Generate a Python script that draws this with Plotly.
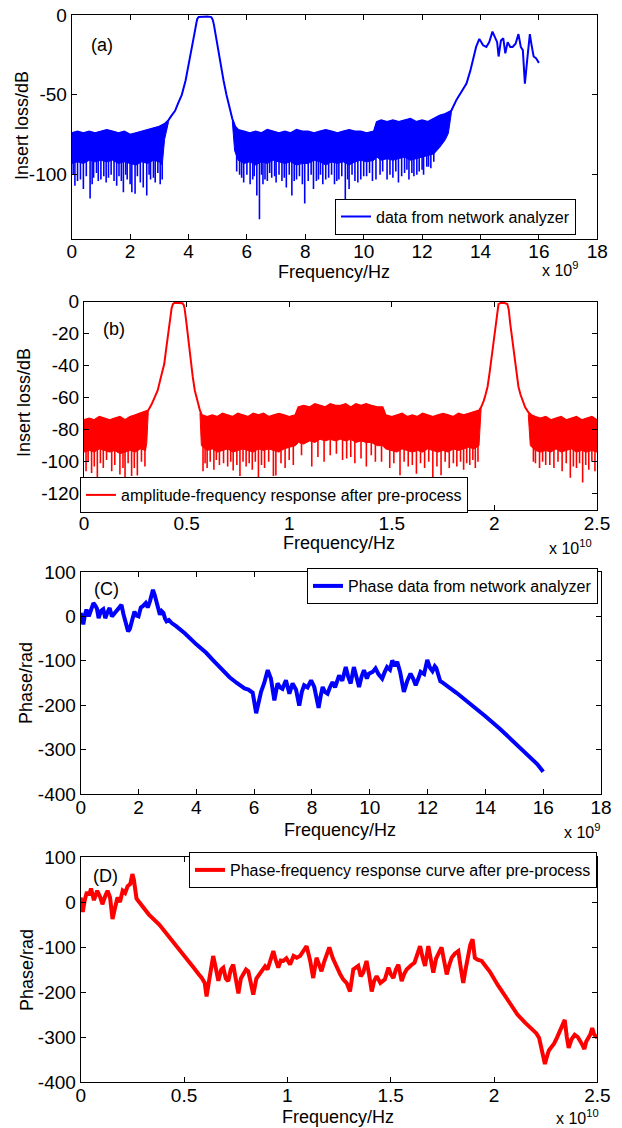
import numpy as np
import plotly.graph_objects as go

W, H = 622, 1128
FONT = "Liberation Sans, Arial, Helvetica, sans-serif"
BLUE = "#0000FF"
RED = "#FF0000"

# ---------------- Panel (a): insertion loss from network analyzer (x in 1e9 Hz) ----------------
A_FREQ = [0.0, 0.2, 0.4, 0.6, 0.8, 1.0, 1.2, 1.4, 1.6, 1.8,
          2.0, 2.2, 2.4, 2.6, 2.8, 3.0, 3.2, 3.31, 3.4, 3.54,
          3.65, 3.77, 3.9, 4.0, 4.11, 4.2, 4.27, 4.3, 4.35, 4.5,
          4.65, 4.78, 4.83, 4.87, 4.95, 5.03, 5.12, 5.2, 5.3, 5.4,
          5.5, 5.6, 5.7, 5.9, 6.1, 6.3, 6.5, 6.7, 6.9, 7.1,
          7.3, 7.5, 7.7, 7.9, 8.1, 8.3, 8.5, 8.7, 8.9, 9.1,
          9.3, 9.5, 9.7, 9.9, 10.1, 10.35, 10.45, 10.6, 10.8, 11.0,
          11.2, 11.4, 11.6, 11.8, 12.0, 12.2, 12.4, 12.6, 12.8, 13.0,
          13.18, 13.35, 13.52, 13.65, 13.75, 13.85, 13.96, 14.09, 14.2, 14.3,
          14.41, 14.5, 14.57, 14.62, 14.7, 14.78, 14.85, 14.93, 15.02, 15.1,
          15.2, 15.3, 15.38, 15.45, 15.52, 15.6, 15.69, 15.75, 15.82, 15.9,
          16.0]
A_UPPER = [-74, -73, -74, -73, -74, -73, -72, -73, -74, -73,
           -75, -74, -73, -72, -71, -70, -68, -66, -63.5, -60,
           -55, -50, -41, -32, -22, -12, -5, -2.5, -1.2, -1,
           -1, -1.3, -3, -6, -15, -22, -32, -41, -50, -58,
           -65, -70, -72, -73, -74, -73, -74, -72, -73, -74,
           -73, -74, -72, -73, -73, -74, -73, -72, -73, -74,
           -73, -72, -73, -73, -74, -73, -67, -66, -67, -66,
           -67, -66, -65, -67, -66, -67, -65, -63, -62, -60,
           -53, -48, -43, -35, -28, -20, -15, -19, -20, -17,
           -10.4, -14, -17, -26, -16, -14.6, -24, -17, -20, -20,
           -18, -12, -20, -22, -43, -28, -12, -19, -26, -27,
           -30]
A_LO1_FREQ = [0.0, 0.2, 0.4, 0.6, 0.8, 1.0, 1.2, 1.4, 1.6, 1.8,
              2.0, 2.2, 2.4, 2.6, 2.8, 3.0, 3.1, 3.18, 3.31]
A_LO1 = [-93, -92, -93, -91, -92, -91, -92, -91, -93, -92,
         -93, -94, -92, -93, -91, -92, -94, -78, -67.5]
A_LO2_FREQ = [5.5, 5.58, 5.7, 5.9, 6.1, 6.3, 6.5, 6.7, 6.9, 7.1,
              7.3, 7.5, 7.7, 7.9, 8.1, 8.3, 8.5, 8.7, 8.9, 9.1,
              9.3, 9.5, 9.7, 9.9, 10.1, 10.35, 10.45, 10.6, 10.8, 11.0,
              11.2, 11.4, 11.6, 11.8, 12.0, 12.2, 12.4, 12.6, 12.8, 12.9,
              13.0]
A_LO2 = [-66.5, -85, -91, -93, -92, -94, -92, -93, -91, -92,
         -93, -92, -94, -93, -93, -91, -92, -94, -92, -93,
         -92, -94, -92, -91, -92, -91, -89, -91, -90, -91,
         -90, -89, -91, -90, -89, -88, -87, -83, -78, -74,
         -61.5]
A_SPIKE_FREQ = [0.05, 0.11, 0.2, 0.3, 0.4, 0.5, 0.63, 0.7, 0.75, 0.85,
                0.91, 1.0, 1.1, 1.18, 1.26, 1.35, 1.45, 1.54, 1.62, 1.7,
                1.77, 1.85, 1.9, 2.0, 2.06, 2.17, 2.25, 2.35, 2.45, 2.57,
                2.65, 2.7, 2.8, 2.86, 2.95, 3.03, 3.1,
                5.65, 5.75, 5.82, 5.89, 6.0, 6.11, 6.2, 6.25, 6.34, 6.43,
                6.5, 6.55, 6.62, 6.7, 6.78, 6.85, 6.95, 7.0, 7.1, 7.2,
                7.28, 7.35, 7.45, 7.54, 7.62, 7.7, 7.8, 7.9, 7.98, 8.1,
                8.2, 8.28, 8.38, 8.45, 8.52, 8.6, 8.7, 8.8, 8.9, 9.0,
                9.08, 9.15, 9.25, 9.37, 9.45, 9.5, 9.6, 9.7, 9.8, 9.9,
                10.0, 10.1, 10.2, 10.3, 10.42, 10.56, 10.65, 10.8, 10.9, 11.0,
                11.1, 11.19, 11.3, 11.4, 11.48, 11.55, 11.65, 11.72, 11.82, 11.9,
                12.0, 12.05, 12.16, 12.22, 12.3, 12.4]
A_SPIKE_DB = [-100, -107, -104, -103, -109, -101, -115, -106, -102, -99,
              -104, -103, -101, -105, -102, -100, -104, -107, -101, -104,
              -111, -100, -103, -106, -111, -112, -101, -105, -108, -113,
              -100, -103, -102, -105, -99, -106, -103,
              -98, -100, -102, -105, -100, -106, -103, -101, -113, -128,
              -100, -106, -103, -104, -99, -102, -101, -105, -100, -104,
              -102, -108, -100, -113, -104, -103, -101, -106, -118, -104,
              -100, -109, -104, -103, -100, -106, -103, -102, -100, -106,
              -104, -103, -101, -117, -103, -109, -100, -104, -105, -103,
              -101, -101, -99, -104, -103, -100, -98, -103, -100, -102,
              -98, -105, -101, -99, -97, -103, -99, -101, -100, -98,
              -97, -100, -95, -95, -96, -92]

# ---------------- Panel (b): amplitude response after pre-process (x in 1e10 Hz) ----------------
B_FREQ = [0.0, 0.025, 0.05, 0.075, 0.1, 0.125, 0.15, 0.175, 0.2, 0.225,
          0.25, 0.275, 0.3, 0.313, 0.33, 0.345, 0.359, 0.375, 0.391, 0.4,
          0.41, 0.42, 0.427, 0.433, 0.44, 0.46, 0.48, 0.486, 0.49, 0.498,
          0.505, 0.513, 0.521, 0.53, 0.54, 0.548, 0.557, 0.565, 0.575, 0.6,
          0.625, 0.65, 0.675, 0.7, 0.725, 0.75, 0.775, 0.8, 0.825, 0.85,
          0.875, 0.9, 0.925, 0.95, 0.975, 1.0, 1.03, 1.045, 1.07, 1.1,
          1.125, 1.15, 1.175, 1.2, 1.225, 1.25, 1.275, 1.3, 1.325, 1.35,
          1.375, 1.4, 1.43, 1.455, 1.47, 1.5, 1.525, 1.55, 1.575, 1.6,
          1.625, 1.65, 1.675, 1.7, 1.725, 1.75, 1.775, 1.8, 1.825, 1.85,
          1.875, 1.9, 1.925, 1.935, 1.948, 1.957, 1.967, 1.977, 1.987, 1.997,
          2.007, 2.013, 2.02, 2.03, 2.05, 2.063, 2.07, 2.077, 2.087, 2.097,
          2.107, 2.117, 2.127, 2.137, 2.15, 2.165, 2.18, 2.2, 2.225, 2.25,
          2.275, 2.3, 2.325, 2.35, 2.375, 2.4, 2.425, 2.45, 2.475, 2.5]
B_UPPER = [-74, -73, -74, -72, -73, -74, -73, -72, -74, -72,
           -71, -70, -69, -68, -64, -60, -55.5, -47, -39, -30,
           -20, -10, -4, -1.5, -0.8, -0.8, -1, -2, -4, -12,
           -20, -30, -39, -47, -55.5, -60, -64, -68, -71, -72,
           -71, -72, -70, -71, -72, -70, -71, -72, -70, -71,
           -70, -72, -71, -70, -71, -72, -71, -66, -65, -66,
           -64, -65, -66, -64, -65, -65, -64, -66, -64, -65,
           -64, -65, -66, -66, -71, -72, -71, -70, -72, -71,
           -72, -70, -71, -72, -71, -70, -71, -72, -70, -71,
           -70, -69, -68, -66, -62, -58, -53, -44, -34, -24,
           -13.5, -5, -1.5, -0.8, -0.8, -1.5, -5, -13.5, -24, -34,
           -44, -53, -58, -62, -66, -69, -71, -72, -73, -72,
           -74, -73, -72, -74, -73, -72, -74, -73, -72, -74]
B_LO1_FREQ = [0.0, 0.025, 0.05, 0.075, 0.1, 0.125, 0.15, 0.175, 0.2, 0.225,
              0.25, 0.275, 0.3, 0.306, 0.313]
B_LO1 = [-94, -93, -94, -92, -93, -94, -93, -95, -94, -93,
         -94, -92, -93, -88, -69.5]
B_LO2_FREQ = [0.565, 0.572, 0.6, 0.625, 0.65, 0.675, 0.7, 0.725, 0.75, 0.775,
              0.8, 0.825, 0.85, 0.875, 0.9, 0.925, 0.95, 0.975, 1.0, 1.03,
              1.045, 1.07, 1.1, 1.125, 1.15, 1.175, 1.2, 1.225, 1.25, 1.275,
              1.3, 1.325, 1.35, 1.375, 1.4, 1.43, 1.455, 1.47, 1.5, 1.525,
              1.55, 1.575, 1.6, 1.625, 1.65, 1.675, 1.7, 1.725, 1.75, 1.775,
              1.8, 1.825, 1.85, 1.875, 1.9, 1.925, 1.935]
B_LO2 = [-69.5, -90, -93, -92, -94, -93, -92, -94, -93, -92,
         -93, -94, -92, -93, -92, -93, -94, -92, -91, -90,
         -88, -89, -87, -88, -86, -87, -86, -87, -86, -87,
         -86, -88, -87, -88, -88, -90, -90, -92, -93, -94,
         -92, -93, -94, -93, -94, -92, -93, -94, -93, -94,
         -92, -93, -92, -91, -92, -90, -67.5]
B_LO3_FREQ = [2.165, 2.175, 2.2, 2.225, 2.25, 2.275, 2.3, 2.325, 2.35, 2.375,
              2.4, 2.425, 2.45, 2.475, 2.5]
B_LO3 = [-70.5, -90, -93, -94, -93, -94, -92, -94, -93, -92,
         -94, -93, -94, -93, -94]
B_SPIKE_FREQ = [0.01, 0.02, 0.037, 0.05, 0.065, 0.08, 0.094, 0.11, 0.135, 0.15,
                0.175, 0.19, 0.2, 0.215, 0.232, 0.245, 0.26, 0.28, 0.297,
                0.58, 0.59, 0.6, 0.615, 0.633, 0.645, 0.66, 0.68, 0.7, 0.715,
                0.727, 0.745, 0.76, 0.775, 0.79, 0.805, 0.82, 0.835, 0.85, 0.865,
                0.88, 0.9, 0.923, 0.935, 0.96, 0.98, 1.0, 1.02, 1.06, 1.11,
                1.14, 1.17, 1.2, 1.23, 1.26, 1.28, 1.3, 1.32, 1.35, 1.376,
                1.4, 1.42, 1.45, 1.49, 1.51, 1.54, 1.56, 1.58, 1.6, 1.62,
                1.64, 1.66, 1.68, 1.70, 1.72, 1.74, 1.76, 1.78, 1.8, 1.817,
                1.835, 1.85, 1.865, 1.88, 1.895, 1.907, 1.92,
                2.19, 2.2, 2.22, 2.235, 2.25, 2.27, 2.29, 2.31, 2.33, 2.35,
                2.37, 2.385, 2.4, 2.415, 2.43, 2.445, 2.46, 2.475, 2.49]
B_SPIKE_DB = [-106, -100, -107, -103, -114, -101, -104, -99, -106, -102,
              -108, -104, -110, -101, -109, -104, -108.6, -100, -103,
              -106, -101, -104, -100, -105, -99, -102, -101, -103, -100,
              -105.5, -102, -109, -100, -103, -101, -105, -100, -110, -102,
              -104, -100, -109, -108.6, -101, -104, -99, -102, -96, -103,
              -97, -100, -96, -95, -99, -98, -97, -101, -98, -103,
              -96, -100, -100, -104, -101, -108.5, -100, -103, -102, -107.5,
              -101, -104, -100, -110, -103, -108.5, -100, -104, -101, -103,
              -100, -105, -101, -102, -99, -104, -100,
              -100, -101, -104, -100, -102, -102, -104, -100, -106, -101,
              -110, -103, -104, -101, -113, -102, -105, -100, -106]

# ---------------- Panel (c): phase from network analyzer (x in 1e9 Hz) ----------------
C_FREQ = [0.0, 0.05, 0.09, 0.15, 0.2, 0.28, 0.35, 0.44, 0.5, 0.56,
          0.62, 0.7, 0.78, 0.85, 0.92, 1.0, 1.08, 1.15, 1.25, 1.35,
          1.41, 1.48, 1.55, 1.64, 1.7, 1.78, 1.86, 1.92, 2.0, 2.08,
          2.15, 2.25, 2.32, 2.4, 2.5, 2.56, 2.62, 2.68, 2.74, 2.8,
          2.86, 2.92, 2.97, 3.05, 3.15, 3.3, 3.6, 4.0, 4.34, 4.6,
          4.9, 5.15, 5.4, 5.67, 5.8, 5.95, 6.07, 6.15, 6.24, 6.35,
          6.47, 6.58, 6.7, 6.81, 6.9, 6.98, 7.1, 7.22, 7.33, 7.45,
          7.56, 7.65, 7.73, 7.85, 7.97, 8.08, 8.23, 8.3, 8.37, 8.45,
          8.54, 8.62, 8.71, 8.8, 8.94, 9.05, 9.17, 9.25, 9.34, 9.45,
          9.55, 9.63, 9.72, 9.8, 9.9, 9.97, 10.1, 10.2, 10.3, 10.43,
          10.52, 10.6, 10.7, 10.78, 10.87, 10.95, 11.05, 11.18, 11.3, 11.41,
          11.5, 11.59, 11.68, 11.76, 11.88, 11.99, 12.08, 12.17, 12.25, 12.3,
          12.44, 12.5, 13.0, 13.5, 14.0, 14.5, 15.0, 15.5, 15.7, 15.8,
          16.0]
C_PHASE = [8, -5, -18, 5, 15, 0, 12, 30, 25, 18,
           -4, 12, 16, -4, 8, 19, 0, 6, 15, 22,
           26, 5, -15, -34, -28, -10, 11, 2, 0, 20,
           23, 30, 20, 35, 60, 48, 34, 15, 4, 12,
           8, -5, -11, -8, -15, -22, -38, -63, -82, -100,
           -120, -137, -150, -162, -165, -172, -218, -190, -170, -150,
           -121, -140, -189, -151, -160, -163, -144, -174, -151, -165,
           -201, -170, -155, -160, -144, -159, -206, -180, -159, -170,
           -174, -160, -148, -160, -133, -145, -114, -135, -151, -114,
           -135, -159, -135, -121, -140, -129, -125, -117, -130, -140,
           -125, -114, -120, -99, -112, -102, -125, -170, -145, -129,
           -140, -155, -140, -125, -130, -98, -115, -123, -112, -116,
           -146, -148, -172, -198, -225, -253, -283, -313, -325, -333,
           -350]

# ---------------- Panel (d): phase after pre-process (x in 1e10 Hz) ----------------
D_FREQ = [0.0, 0.01, 0.02, 0.03, 0.04, 0.05, 0.064, 0.08, 0.095, 0.105,
          0.12, 0.13, 0.142, 0.154, 0.165, 0.178, 0.19, 0.203, 0.215, 0.227,
          0.24, 0.25, 0.257, 0.263, 0.27, 0.279, 0.29, 0.3, 0.311, 0.33,
          0.38, 0.432, 0.48, 0.52, 0.545, 0.57, 0.585, 0.6, 0.609, 0.62,
          0.641, 0.655, 0.666, 0.68, 0.69, 0.702, 0.714, 0.726, 0.738, 0.75,
          0.763, 0.775, 0.787, 0.8, 0.811, 0.823, 0.835, 0.85, 0.868, 0.88,
          0.892, 0.904, 0.916, 0.932, 0.944, 0.956, 0.968, 0.98, 0.995, 1.013,
          1.03, 1.045, 1.061, 1.075, 1.093, 1.11, 1.125, 1.141, 1.153, 1.165,
          1.18, 1.203, 1.22, 1.238, 1.255, 1.27, 1.287, 1.303, 1.319, 1.343,
          1.355, 1.367, 1.383, 1.395, 1.408, 1.42, 1.432, 1.45, 1.472, 1.489,
          1.5, 1.513, 1.525, 1.537, 1.553, 1.565, 1.577, 1.6, 1.615, 1.626,
          1.642, 1.655, 1.666, 1.682, 1.695, 1.706, 1.72, 1.735, 1.746, 1.76,
          1.771, 1.783, 1.795, 1.81, 1.827, 1.84, 1.851, 1.862, 1.875, 1.885,
          1.896, 1.907, 1.92, 1.94, 1.98, 2.02, 2.077, 2.113, 2.15, 2.19,
          2.205, 2.218, 2.23, 2.237, 2.246, 2.255, 2.265, 2.275, 2.29, 2.304,
          2.315, 2.323, 2.333, 2.342, 2.352, 2.361, 2.375, 2.39, 2.405, 2.418,
          2.428, 2.437, 2.446, 2.456, 2.465, 2.475, 2.485, 2.5]
D_PHASE = [10, -22, 5, 22, 15, 30, 4, 25, 10, -5,
           15, 25, 10, -38, -15, 10, 0, 25, 20, 35,
           40, 62, 50, 20, 8, 2, -5, -10, -15, -28,
           -50, -79, -107, -128, -145, -160, -168, -180, -210, -178,
           -120, -150, -175, -150, -146, -170, -176, -150, -139, -170,
           -203, -170, -158, -150, -154, -180, -206, -170, -158, -150,
           -143, -150, -131, -109, -130, -146, -130, -131, -125, -139,
           -120, -124, -120, -110, -98, -130, -169, -124, -140, -154,
           -130, -101, -125, -146, -160, -172, -180, -199, -150, -142,
           -165, -157, -131, -160, -199, -175, -165, -180, -172, -146,
           -160, -169, -150, -139, -176, -160, -150, -140, -135, -120,
           -98, -125, -142, -98, -130, -157, -125, -110, -101, -135,
           -161, -140, -124, -115, -109, -150, -180, -150, -124, -95,
           -83, -124, -128, -131, -155, -186, -225, -250, -268, -286,
           -292, -302, -325, -340, -360, -345, -330, -324, -315, -302,
           -290, -280, -270, -262, -300, -324, -305, -295, -300, -309,
           -318, -327, -310, -302, -295, -280, -295, -302]

X_TICKS_A = [0, 2, 4, 6, 8, 10, 12, 14, 16, 18]
Y_TICKS_A = [-100, -50, 0]
X_TICKS_B = [0, 0.5, 1, 1.5, 2, 2.5]
Y_TICKS_B = [-120, -100, -80, -60, -40, -20, 0]
Y_TICKS_PH = [-400, -300, -200, -100, 0, 100]

LEGEND_TEXT = ["data from network analyzer",
               "amplitude-frequency response after pre-process",
               "Phase data from network analyzer",
               "Phase-frequency response curve after pre-process"]


def px(x):
    return x / W


def py(y):
    return 1 - y / H


fig = go.Figure()


def add_band(xa, ya, top_x, top_y, lo_x, lo_y, color):
    top_x = np.asarray(top_x, float)
    top_y = np.asarray(top_y, float)
    lo_x = np.asarray(lo_x, float)
    lo_y = np.asarray(lo_y, float)
    m = (top_x >= lo_x[0] - 1e-9) & (top_x <= lo_x[-1] + 1e-9)
    poly_x = np.concatenate([top_x[m], lo_x[::-1]])
    poly_y = np.concatenate([top_y[m], lo_y[::-1]])
    fig.add_trace(go.Scatter(x=poly_x, y=poly_y, mode="lines", fill="toself",
                             fillcolor=color, line=dict(color=color, width=1),
                             showlegend=False, hoverinfo="skip", xaxis=xa, yaxis=ya))


def add_spikes(xa, ya, sx, sy, bands, color):
    bx = np.concatenate([np.asarray(b[0], float) for b in bands])
    by = np.concatenate([np.asarray(b[1], float) for b in bands])
    order = np.argsort(bx)
    bx, by = bx[order], by[order]
    xs, ys = [], []
    for x, y in zip(sx, sy):
        base = float(np.interp(x, bx, by)) + 2
        xs += [x, x, None]
        ys += [base, y, None]
    fig.add_trace(go.Scatter(x=xs, y=ys, mode="lines", line=dict(color=color, width=1.6),
                             showlegend=False, hoverinfo="skip", xaxis=xa, yaxis=ya))


# Panel (a)
a_bands = [(A_LO1_FREQ, A_LO1), (A_LO2_FREQ, A_LO2)]
for lo_x, lo_y in a_bands:
    add_band("x", "y", A_FREQ, A_UPPER, lo_x, lo_y, BLUE)
add_spikes("x", "y", A_SPIKE_FREQ, A_SPIKE_DB, a_bands, BLUE)
fig.add_trace(go.Scatter(x=A_FREQ, y=A_UPPER, mode="lines", name=LEGEND_TEXT[0],
                         line=dict(color=BLUE, width=2), xaxis="x", yaxis="y", legend="legend"))

# Panel (b)
b_bands = [(B_LO1_FREQ, B_LO1), (B_LO2_FREQ, B_LO2), (B_LO3_FREQ, B_LO3)]
for lo_x, lo_y in b_bands:
    add_band("x2", "y2", B_FREQ, B_UPPER, lo_x, lo_y, RED)
add_spikes("x2", "y2", B_SPIKE_FREQ, B_SPIKE_DB, b_bands, RED)
fig.add_trace(go.Scatter(x=B_FREQ, y=B_UPPER, mode="lines", name=LEGEND_TEXT[1],
                         line=dict(color=RED, width=2), xaxis="x2", yaxis="y2", legend="legend2"))

# Panel (c)
fig.add_trace(go.Scatter(x=C_FREQ, y=C_PHASE, mode="lines", name=LEGEND_TEXT[2],
                         line=dict(color=BLUE, width=4), xaxis="x3", yaxis="y3", legend="legend3"))

# Panel (d)
fig.add_trace(go.Scatter(x=D_FREQ, y=D_PHASE, mode="lines", name=LEGEND_TEXT[3],
                         line=dict(color=RED, width=4), xaxis="x4", yaxis="y4", legend="legend4"))


def axis(dom, rng, ticks, anchor, is_x):
    d = dict(domain=dom, range=rng, tickvals=ticks, ticktext=[f"{t:g}" for t in ticks],
             anchor=anchor, showline=True, linecolor="black", linewidth=1, mirror="ticks",
             ticks="inside", ticklen=5, tickcolor="black", tickwidth=1, showgrid=False,
             zeroline=False, automargin=False, fixedrange=True,
             tickfont=dict(family=FONT, size=19, color="black"))
    if is_x:
        d["ticklabelstandoff"] = -4
    return d


# pixel boxes: (left, right, top, bottom)
BOX = {
    "a": (71.7, 597.3, 15.0, 238.5),
    "b": (84.0, 597.0, 301.7, 509.7),
    "c": (80.7, 601.0, 572.0, 794.0),
    "d": (80.7, 597.4, 857.0, 1082.0),
}


def xd(k):
    l, r, t, b = BOX[k]
    return [px(l), px(r)]


def yd(k):
    l, r, t, b = BOX[k]
    return [py(b), py(t)]


layout = dict(
    width=W, height=H, autosize=False,
    margin=dict(l=0, r=0, t=0, b=0, pad=0),
    paper_bgcolor="white", plot_bgcolor="white",
    font=dict(family=FONT, size=18, color="black"),
    hovermode=False,
    xaxis=axis(xd("a"), [0, 18], X_TICKS_A, "y", True),
    yaxis=axis(yd("a"), [-140, 0], Y_TICKS_A, "x", False),
    xaxis2=axis(xd("b"), [0, 2.5], X_TICKS_B, "y2", True),
    yaxis2=axis(yd("b"), [-130, 0], Y_TICKS_B, "x2", False),
    xaxis3=axis(xd("c"), [0, 18], X_TICKS_A, "y3", True),
    yaxis3=axis(yd("c"), [-400, 100], Y_TICKS_PH, "x3", False),
    xaxis4=axis(xd("d"), [0, 2.5], X_TICKS_B, "y4", True),
    yaxis4=axis(yd("d"), [-400, 100], Y_TICKS_PH, "x4", False),
)

legend_style = dict(bgcolor="white", bordercolor="black", borderwidth=1,
                    font=dict(family=FONT, size=16, color="black"),
                    yanchor="middle", itemwidth=30)
# legends centred on the reference legend boxes
layout["legend"] = dict(legend_style, x=px(576), xanchor="right", y=py(216.5))
layout["legend2"] = dict(legend_style, x=px(80), xanchor="left", y=py(495))
layout["legend3"] = dict(legend_style, x=px(598), xanchor="right", y=py(586))
layout["legend4"] = dict(legend_style, x=px(597), xanchor="right", y=py(870))

ann = []


def text(x, y, s, size=18, angle=0, xanchor="center", yanchor="middle"):
    ann.append(dict(x=px(x), y=py(y), xref="paper", yref="paper", text=s, showarrow=False,
                    textangle=angle, xanchor=xanchor, yanchor=yanchor,
                    font=dict(family=FONT, size=size, color="black")))


text(101.5, 45, "(a)", 18)
text(114, 329, "(b)", 18)
text(106, 589, "(C)", 18)
text(105, 876, "(D)", 18)
for yy, xx in [(272, 334), (543, 339), (830, 340), (1117, 338)]:
    text(xx, yy, "Frequency/Hz", 18)
text(22, 126, "Insert loss/dB", 18, -90)
text(24, 403, "Insert loss/dB", 18, -90)
text(26, 683, "Phase/rad", 18, -90)
text(27, 970, "Phase/rad", 18, -90)
text(540, 269, "x 10<sup>9</sup>", 16, xanchor="left")
text(547, 547, "x 10<sup>10</sup>", 16, xanchor="left")
text(562, 831, "x 10<sup>9</sup>", 16, xanchor="left")
text(554, 1117, "x 10<sup>10</sup>", 16, xanchor="left")
layout["annotations"] = ann

fig.update_layout(**layout)
fig.write_html("out.html", config={"displayModeBar": False, "staticPlot": True},
               post_script="document.body.style.margin='0px';document.body.style.overflow='hidden';")
